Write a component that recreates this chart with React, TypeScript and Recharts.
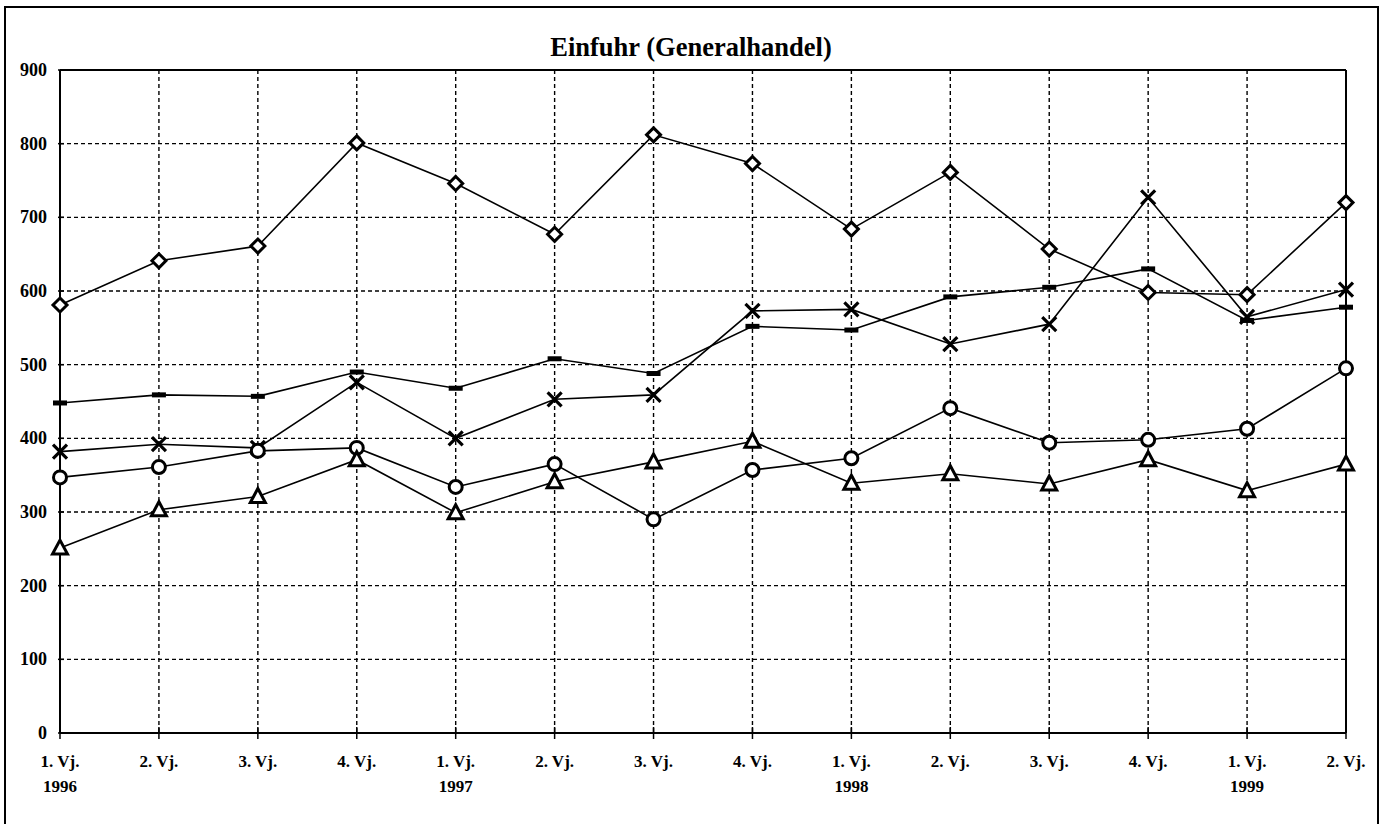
import React from "react";
import {
  CartesianGrid,
  Line,
  LineChart,
  ReferenceLine,
  XAxis,
  YAxis,
} from "recharts";

const QUARTERS = [
  "1. Vj.", "2. Vj.", "3. Vj.", "4. Vj.",
  "1. Vj.", "2. Vj.", "3. Vj.", "4. Vj.",
  "1. Vj.", "2. Vj.", "3. Vj.", "4. Vj.",
  "1. Vj.", "2. Vj.",
];
const YEARS = [
  "1996", "", "", "",
  "1997", "", "", "",
  "1998", "", "", "",
  "1999", "",
];
const Y_TICKS = [0, 100, 200, 300, 400, 500, 600, 700, 800, 900];

const diamondSeries = [581, 641, 661, 801, 746, 677, 812, 773, 684, 761, 657, 598, 595, 720];
const dashSeries = [448, 459, 457, 490, 468, 508, 488, 552, 547, 592, 605, 630, 560, 578];
const crossSeries = [382, 392, 387, 476, 400, 453, 459, 573, 575, 528, 555, 727, 565, 602];
const circleSeries = [347, 361, 383, 387, 334, 365, 290, 357, 373, 441, 394, 398, 413, 495];
const triangleSeries = [251, 303, 321, 371, 299, 341, 368, 396, 339, 352, 338, 371, 329, 365];

const data = QUARTERS.map((q, i) => ({
  key: `p${i}`,
  diamond: diamondSeries[i],
  dash: dashSeries[i],
  cross: crossSeries[i],
  circle: circleSeries[i],
  triangle: triangleSeries[i],
}));

const FONT = '"Liberation Serif", "Times New Roman", serif';

type DotProps = { cx?: number; cy?: number; index?: number };

const Diamond = ({ cx = 0, cy = 0, index }: DotProps) => (
  <path
    key={`d${index}`}
    d={`M${cx},${cy - 7} L${cx + 7},${cy} L${cx},${cy + 7} L${cx - 7},${cy} Z`}
    fill="#fff"
    stroke="#000"
    strokeWidth={3}
  />
);

const Dash = ({ cx = 0, cy = 0, index }: DotProps) => (
  <rect key={`m${index}`} x={cx - 7} y={cy - 2.5} width={14} height={5} fill="#000" />
);

const Cross = ({ cx = 0, cy = 0, index }: DotProps) => (
  <path
    key={`x${index}`}
    d={`M${cx - 7},${cy - 7} L${cx + 7},${cy + 7} M${cx - 7},${cy + 7} L${cx + 7},${cy - 7}`}
    stroke="#000"
    strokeWidth={3.2}
    fill="none"
  />
);

const Circle = ({ cx = 0, cy = 0, index }: DotProps) => (
  <circle key={`c${index}`} cx={cx} cy={cy} r={6.5} fill="#fff" stroke="#000" strokeWidth={3} />
);

const Triangle = ({ cx = 0, cy = 0, index }: DotProps) => (
  <path
    key={`t${index}`}
    d={`M${cx},${cy - 8} L${cx + 7.5},${cy + 6} L${cx - 7.5},${cy + 6} Z`}
    fill="#fff"
    stroke="#000"
    strokeWidth={3}
  />
);

const XTick = (props: any) => {
  const { x, y, index } = props;
  return (
    <g>
      <line x1={x} x2={x} y1={y - 14} y2={y - 2} stroke="#000" strokeWidth={1.5} />
      <text x={x} y={y + 26} textAnchor="middle" fontFamily={FONT} fontWeight="bold" fontSize={17} fill="#000">
        {QUARTERS[index]}
      </text>
      {YEARS[index] && (
        <text x={x} y={y + 51} textAnchor="middle" fontFamily={FONT} fontWeight="bold" fontSize={17} fill="#000">
          {YEARS[index]}
        </text>
      )}
    </g>
  );
};

const YTick = (props: any) => {
  const { x, y, payload } = props;
  return (
    <g>
      <line x1={x + 6} x2={x + 12} y1={y} y2={y} stroke="#000" strokeWidth={1.5} />
      <text x={x - 5} y={y + 6} textAnchor="end" fontFamily={FONT} fontWeight="bold" fontSize={18} fill="#000">
        {payload.value}
      </text>
    </g>
  );
};

export default function App() {
  return (
    <div style={{ position: "fixed", left: 0, top: 0, width: 1387, height: 824, background: "#fff", overflow: "hidden" }}>
      <div
        style={{
          position: "absolute",
          left: 0,
          width: 1382,
          top: 32,
          textAlign: "center",
          fontFamily: FONT,
          fontWeight: "bold",
          fontSize: 26.5,
          color: "#000",
          whiteSpace: "nowrap",
        }}
      >
        Einfuhr (Generalhandel)
      </div>
      <div style={{ position: "absolute", left: 0, top: 0 }}>
        <LineChart
          width={1387}
          height={824}
          data={data}
          margin={{ top: 70, right: 41, bottom: 31, left: 10 }}
        >
          <CartesianGrid stroke="#000" strokeDasharray="4 3" strokeWidth={1.4} />
          <XAxis
            dataKey="key"
            height={60}
            stroke="#000"
            strokeWidth={2}
            tickLine={false}
            interval={0}
            tick={<XTick />}
          />
          <YAxis
            width={50}
            domain={[0, 900]}
            ticks={Y_TICKS}
            stroke="#000"
            strokeWidth={2}
            tickLine={false}
            tick={<YTick />}
            interval={0}
          />
          <ReferenceLine y={900} stroke="#000" strokeWidth={2} />
          <ReferenceLine x="p13" stroke="#000" strokeWidth={2} />
          <Line dataKey="diamond" stroke="#000" strokeWidth={1.6} dot={<Diamond />} isAnimationActive={false} />
          <Line dataKey="dash" stroke="#000" strokeWidth={1.6} dot={<Dash />} isAnimationActive={false} />
          <Line dataKey="cross" stroke="#000" strokeWidth={1.6} dot={<Cross />} isAnimationActive={false} />
          <Line dataKey="circle" stroke="#000" strokeWidth={1.6} dot={<Circle />} isAnimationActive={false} />
          <Line dataKey="triangle" stroke="#000" strokeWidth={1.6} dot={<Triangle />} isAnimationActive={false} />
        </LineChart>
      </div>
      <svg
        width={1387}
        height={824}
        style={{ position: "absolute", left: 0, top: 0, pointerEvents: "none" }}
      >
        <polyline points="5,830 5,7 1378,7 1378,830" fill="none" stroke="#000" strokeWidth={2} />
      </svg>
    </div>
  );
}
